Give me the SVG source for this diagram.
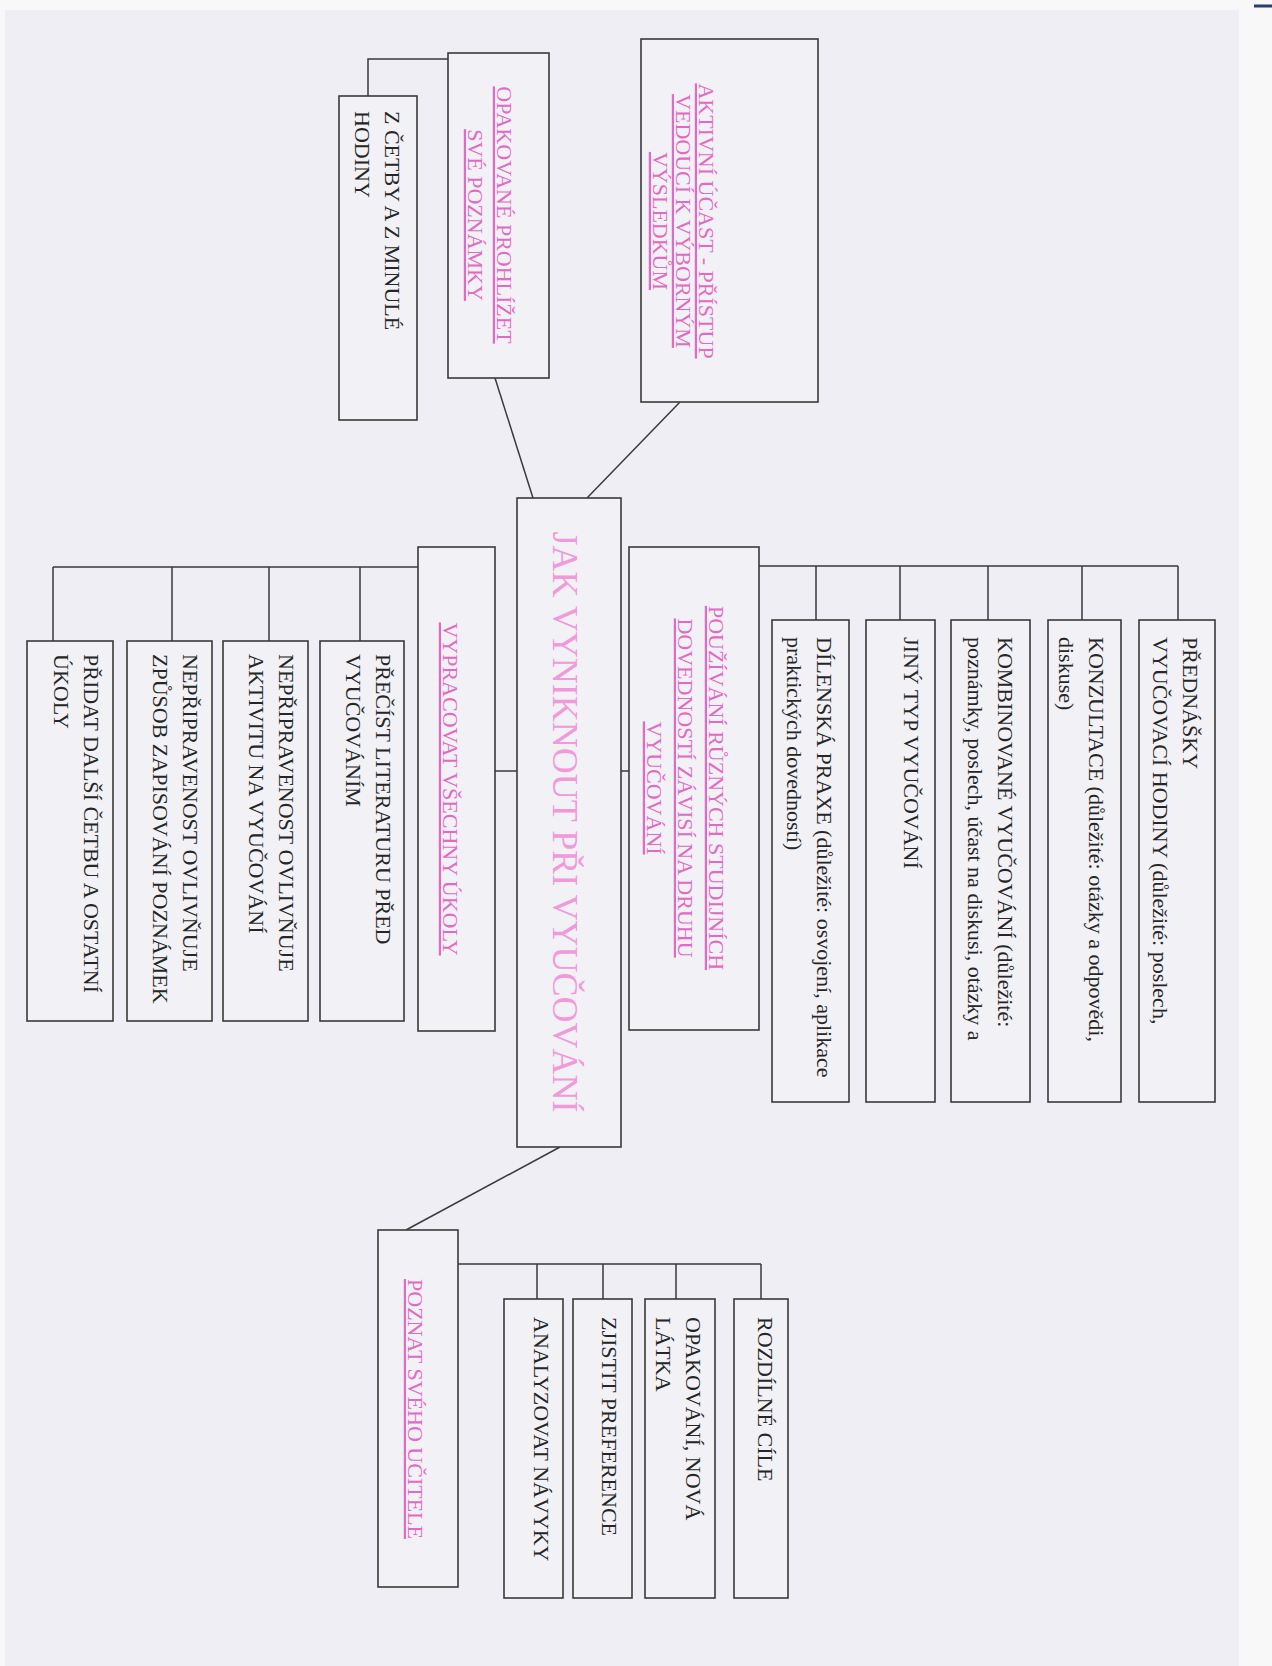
<svg xmlns="http://www.w3.org/2000/svg" width="1272" height="1666" viewBox="0 0 1272 1666">
<style>
.box{fill:#f1f1f6;stroke:#3a3a3a;stroke-width:1.6}
.ln{fill:none;stroke:#3a3a3a;stroke-width:1.5}
.t{font-family:"Liberation Serif","Times New Roman",serif;font-size:22px;fill:#262626}
.p{font-family:"Liberation Serif","Times New Roman",serif;font-size:22px;fill:#e16bc4;text-decoration:underline;text-anchor:middle}
.title{font-family:"Liberation Serif","Times New Roman",serif;font-size:36px;fill:#f09ad9;text-anchor:middle}
</style>
<rect x="0" y="0" width="1272" height="1666" fill="#f8f8f9"/>
<rect x="5" y="10" width="1234" height="1656" fill="#eeeef4"/>
<line x1="1254" y1="6" x2="1272" y2="6" stroke="#2b3c6e" stroke-width="3"/>

<g id="connectors">
<path class="ln" d="M368,96 V59 H448"/>
<path class="ln" d="M495,378 L533,498"/>
<path class="ln" d="M680,402 L587,498"/>
<path class="ln" d="M495,771 H517"/>
<path class="ln" d="M621,771 H629"/>
<path class="ln" d="M759,566 H1178 M816,566 V620 M900,566 V620 M988,566 V620 M1082,566 V620 M1178,566 V620"/>
<path class="ln" d="M418,567 H53 M53,567 V641 M172,567 V641 M269,567 V641 M360,567 V641"/>
<path class="ln" d="M560,1147 L406,1230"/>
<path class="ln" d="M458,1264 H761 M537,1264 V1299 M603,1264 V1299 M676,1264 V1299 M761,1264 V1299"/>
</g>

<g id="n-aktivni">
<rect class="box" x="641" y="39" width="177" height="363"/>
<text class="p" transform="translate(699,221) rotate(90)"><tspan x="0" y="0">AKTIVNÍ ÚČAST - PŘÍSTUP</tspan><tspan x="0" y="23">VEDOUCÍ K VÝBORNÝM</tspan><tspan x="0" y="46">VÝSLEDKŮM</tspan></text>
</g>

<g id="n-opakovane">
<rect class="box" x="448" y="53" width="101" height="325"/>
<text class="p" transform="translate(497,215) rotate(90)"><tspan x="0" y="0">OPAKOVANÉ PROHLÍŽET</tspan><tspan x="0" y="29">SVÉ POZNÁMKY</tspan></text>
</g>

<g id="n-cetby">
<rect class="box" x="339" y="96" width="78" height="324"/>
<text class="t" transform="translate(385,111) rotate(90)"><tspan x="0" y="0">Z ČETBY A Z MINULÉ</tspan><tspan x="0" y="30">HODINY</tspan></text>
</g>

<g id="n-central">
<rect class="box" x="517" y="498" width="104" height="649"/>
<text class="title" transform="translate(553,822) rotate(90)">JAK VYNIKNOUT PŘI VYUČOVÁNÍ</text>
</g>

<g id="n-pouzivani">
<rect class="box" x="629" y="547" width="130" height="483"/>
<text class="p" transform="translate(709,788) rotate(90)"><tspan x="0" y="0">POUŽÍVÁNÍ RŮZNÝCH STUDIJNÍCH</tspan><tspan x="0" y="31">DOVEDNOSTÍ ZÁVISÍ NA DRUHU</tspan><tspan x="0" y="62">VYUČOVÁNÍ</tspan></text>
</g>

<g id="n-dilenska">
<rect class="box" x="772" y="620" width="77" height="482"/>
<text class="t" transform="translate(817,637) rotate(90)"><tspan x="0" y="0">DÍLENSKÁ PRAXE (důležité: osvojení, aplikace</tspan><tspan x="0" y="30">praktických dovedností)</tspan></text>
</g>

<g id="n-jiny">
<rect class="box" x="866" y="620" width="69" height="482"/>
<text class="t" transform="translate(904,637) rotate(90)">JINÝ TYP VYUČOVÁNÍ</text>
</g>

<g id="n-kombinovane">
<rect class="box" x="951" y="620" width="79" height="482"/>
<text class="t" transform="translate(998,637) rotate(90)"><tspan x="0" y="0">KOMBINOVANÉ VYUČOVÁNÍ (důležité:</tspan><tspan x="0" y="30">poznámky, poslech, účast na diskusi, otázky a</tspan></text>
</g>

<g id="n-konzultace">
<rect class="box" x="1048" y="620" width="73" height="482"/>
<text class="t" transform="translate(1089,637) rotate(90)"><tspan x="0" y="0">KONZULTACE (důležité: otázky a odpovědi,</tspan><tspan x="0" y="30">diskuse)</tspan></text>
</g>

<g id="n-prednasky">
<rect class="box" x="1139" y="620" width="76" height="482"/>
<text class="t" transform="translate(1183,637) rotate(90)"><tspan x="0" y="0">PŘEDNÁŠKY</tspan><tspan x="0" y="30">VYUČOVACÍ HODINY (důležité: poslech,</tspan></text>
</g>

<g id="n-vypracovat">
<rect class="box" x="418" y="547" width="77" height="484"/>
<text class="p" transform="translate(443,789) rotate(90)">VYPRACOVAT VŠECHNY ÚKOLY</text>
</g>

<g id="n-precist">
<rect class="box" x="320" y="641" width="84" height="380"/>
<text class="t" transform="translate(376,654) rotate(90)"><tspan x="0" y="0">PŘEČÍST LITERATURU PŘED</tspan><tspan x="0" y="30">VYUČOVÁNÍM</tspan></text>
</g>

<g id="n-aktivitu">
<rect class="box" x="223" y="641" width="85" height="380"/>
<text class="t" transform="translate(279,654) rotate(90)"><tspan x="0" y="0">NEPŘIPRAVENOST OVLIVŇUJE</tspan><tspan x="0" y="30">AKTIVITU NA VYUČOVÁNÍ</tspan></text>
</g>

<g id="n-zpusob">
<rect class="box" x="127" y="641" width="85" height="380"/>
<text class="t" transform="translate(183,654) rotate(90)"><tspan x="0" y="0">NEPŘIPRAVENOST OVLIVŇUJE</tspan><tspan x="0" y="30">ZPŮSOB ZAPISOVÁNÍ POZNÁMEK</tspan></text>
</g>

<g id="n-pridat">
<rect class="box" x="27" y="641" width="86" height="380"/>
<text class="t" transform="translate(84,654) rotate(90)"><tspan x="0" y="0">PŘIDAT DALŠÍ ČETBU A OSTATNÍ</tspan><tspan x="0" y="30">ÚKOLY</tspan></text>
</g>

<g id="n-poznat">
<rect class="box" x="378" y="1230" width="80" height="357"/>
<text class="p" transform="translate(408,1409) rotate(90)">POZNAT SVÉHO UČITELE</text>
</g>

<g id="n-analyzovat">
<rect class="box" x="504" y="1299" width="59" height="299"/>
<text class="t" transform="translate(534,1317) rotate(90)">ANALYZOVAT NÁVYKY</text>
</g>

<g id="n-zjistit">
<rect class="box" x="573" y="1299" width="59" height="299"/>
<text class="t" transform="translate(602,1317) rotate(90)">ZJISTIT PREFERENCE</text>
</g>

<g id="n-opakovani">
<rect class="box" x="645" y="1299" width="70" height="299"/>
<text class="t" transform="translate(686,1317) rotate(90)"><tspan x="0" y="0">OPAKOVÁNÍ, NOVÁ</tspan><tspan x="0" y="30">LÁTKA</tspan></text>
</g>

<g id="n-rozdilne">
<rect class="box" x="734" y="1299" width="54" height="299"/>
<text class="t" transform="translate(758,1317) rotate(90)">ROZDÍLNÉ CÍLE</text>
</g>
</svg>
